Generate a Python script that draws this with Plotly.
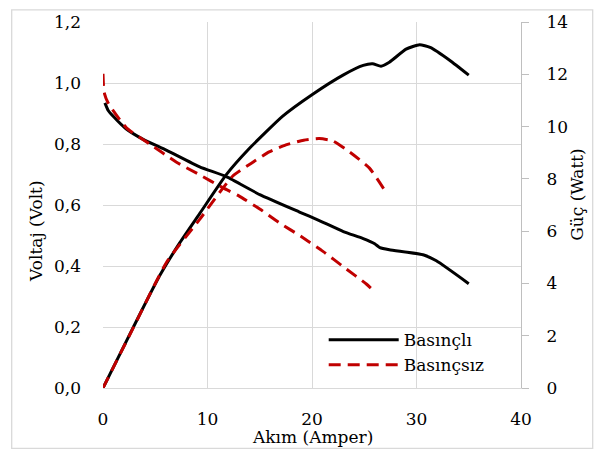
import plotly.graph_objects as go

# Basınçlı (pressurised) — voltage and power vs current
akim_bas_v = [0.18, 0.5, 1.0, 2.2, 3.8, 6.1, 9.25, 11.8, 15.0, 18.8, 20.7, 23.0, 24.9, 26.0, 26.5, 27.4, 30.7, 31.9, 35.0]
volt_bas = [0.935, 0.91, 0.89, 0.85, 0.816, 0.779, 0.725, 0.693, 0.634, 0.577, 0.549, 0.513, 0.490, 0.473, 0.460, 0.453, 0.436, 0.417, 0.342]
akim_bas_p = [0, 2.87, 5.43, 7.34, 9.25, 11.8, 14.0, 17.2, 20.0, 22.97, 24.9, 25.8, 26.6, 27.4, 29.0, 30.3, 31.3, 33.2, 35.0]
guc_bas = [0, 2.30, 4.30, 5.55, 6.67, 8.16, 9.16, 10.4, 11.22, 11.97, 12.34, 12.4, 12.31, 12.46, 12.96, 13.13, 13.03, 12.53, 11.97]

# Basınçsız (unpressurised)
akim_siz_v = [0, 0.1, 0.48, 2.24, 4.47, 7.0, 9.25, 11.5, 13.0, 15.0, 16.9, 19.0, 21.05, 23.1, 25.2, 26.0]
volt_siz = [1.03, 0.97, 0.935, 0.853, 0.80, 0.741, 0.699, 0.656, 0.63, 0.587, 0.541, 0.496, 0.448, 0.395, 0.341, 0.315]
akim_siz_p = [0, 2.87, 6.07, 9.25, 12.4, 14.2, 15.9, 17.5, 19.2, 20.7, 22.0, 23.6, 25.5, 26.9]
guc_siz = [0, 2.28, 4.8, 6.45, 8.1, 8.6, 9.03, 9.3, 9.48, 9.54, 9.45, 9.03, 8.41, 7.60]

x_ticks = [0, 10, 20, 30, 40]
y_ticks = [0, 0.2, 0.4, 0.6, 0.8, 1.0, 1.2]
y2_ticks = [0, 2, 4, 6, 8, 10, 12, 14]

FONT = "DejaVu Serif"
FS = 17
BLACK = "#000000"
RED = "#C00000"
GRID = "#D9D9D9"

fig = go.Figure()
fig.add_trace(go.Scatter(x=akim_bas_v, y=volt_bas, mode="lines", name="Basınçlı",
                         line=dict(color=BLACK, width=3, shape="spline", smoothing=0.5),
                         legendgroup="b", showlegend=True))
fig.add_trace(go.Scatter(x=akim_siz_v, y=volt_siz, mode="lines", name="Basınçsız",
                         line=dict(color=RED, width=3, dash="12px,7px", shape="spline", smoothing=0.5),
                         legendgroup="s", showlegend=True))
fig.add_trace(go.Scatter(x=akim_bas_p, y=guc_bas, mode="lines", name="Basınçlı", yaxis="y2",
                         line=dict(color=BLACK, width=3, shape="spline", smoothing=0.5),
                         legendgroup="b", showlegend=False))
fig.add_trace(go.Scatter(x=akim_siz_p, y=guc_siz, mode="lines", name="Basınçsız", yaxis="y2",
                         line=dict(color=RED, width=3, dash="12px,7px", shape="spline", smoothing=0.5),
                         legendgroup="s", showlegend=False))

x0, x1 = 103.3, 521.3
y0, y1 = 388.3, 14.0
def px_x(p):
    return (p - x0) / (x1 - x0)
def px_y(p):
    return (y0 - p) / (y0 - y1)

fig.update_layout(
    width=597, height=457,
    margin=dict(l=103, r=76, t=14, b=69),
    paper_bgcolor="white", plot_bgcolor="white",
    separators=", ",
    font=dict(family=FONT, size=FS, color=BLACK),
    showlegend=True,
    legend=dict(x=px_x(324), y=px_y(321), xanchor="left", yanchor="top",
                bgcolor="rgba(0,0,0,0)", font=dict(family=FONT, size=FS, color=BLACK),
                itemwidth=70, tracegroupgap=0),
    xaxis=dict(range=[0, 40], tickvals=x_ticks, showgrid=True, gridcolor=GRID, gridwidth=1.3,
               zeroline=False, showline=True, linecolor=GRID, linewidth=1.3, ticks="",
               ticklabelstandoff=15, tickfont=dict(family=FONT, size=FS)),
    yaxis=dict(range=[0, 1.2], tickvals=y_ticks, tickformat=".1f", showgrid=True, gridcolor=GRID,
               gridwidth=1.3, zeroline=False, showline=False, ticks="", ticklabelstandoff=21,
               tickfont=dict(family=FONT, size=FS)),
    yaxis2=dict(range=[0, 14], tickvals=y2_ticks, overlaying="y", side="right", showgrid=False,
                zeroline=False, showline=True, linecolor="#BFBFBF", linewidth=1.3, ticks="outside",
                ticklen=7, tickcolor="#BFBFBF", tickwidth=1.3, ticklabelstandoff=14,
                tickfont=dict(family=FONT, size=FS)),
    shapes=[dict(type="rect", xref="paper", yref="paper", x0=px_x(12), x1=px_x(593),
                 y0=px_y(450), y1=px_y(1.5), line=dict(color=GRID, width=1.3), layer="below")],
    annotations=[
        dict(text="Voltaj (Volt)", xref="paper", yref="paper", x=px_x(37), y=px_y(228),
             textangle=-90, showarrow=False, font=dict(family=FONT, size=FS, color=BLACK),
             xanchor="center", yanchor="middle"),
        dict(text="Güç (Watt)", xref="paper", yref="paper", x=px_x(577), y=px_y(190),
             textangle=-90, showarrow=False, font=dict(family=FONT, size=FS, color=BLACK),
             xanchor="center", yanchor="middle"),
        dict(text="Akım (Amper)", xref="paper", yref="paper", x=px_x(312.5), y=px_y(438),
             showarrow=False, font=dict(family=FONT, size=FS, color=BLACK),
             xanchor="center", yanchor="middle"),
    ],
)

fig.write_html("out.html")
